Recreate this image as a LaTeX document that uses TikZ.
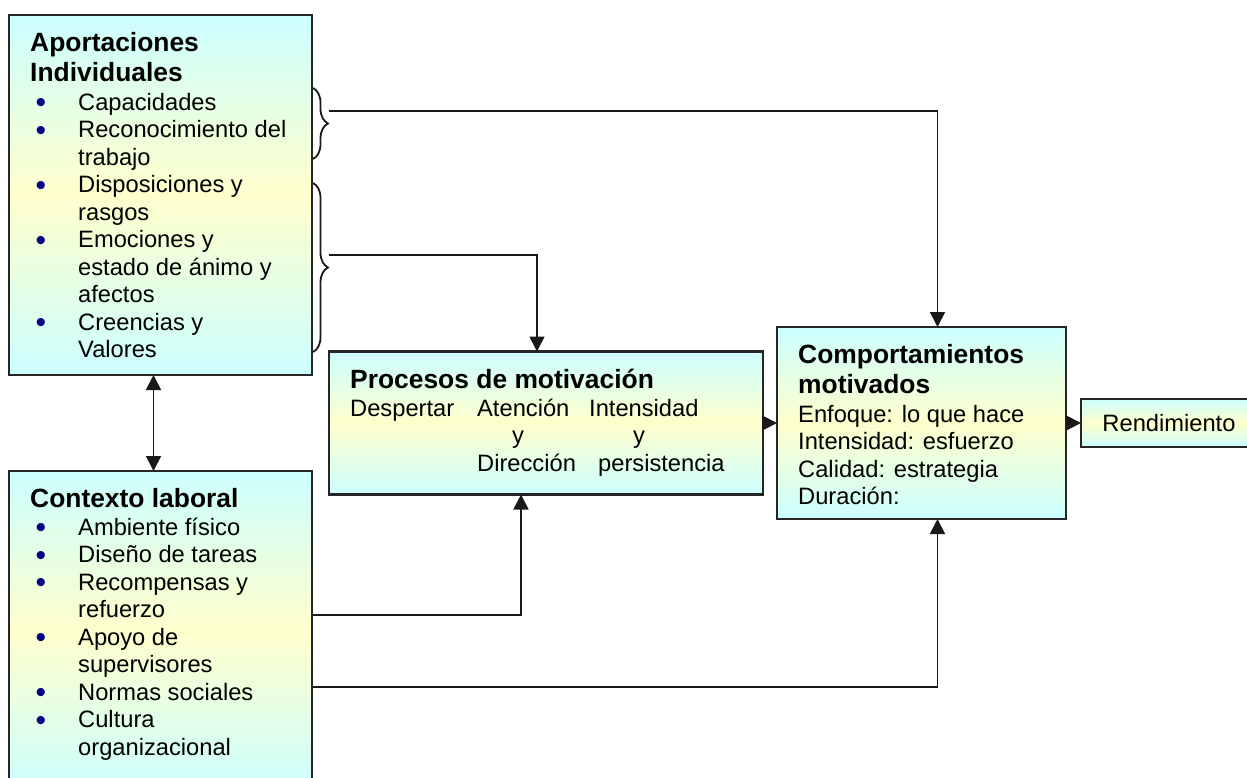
\documentclass[tikz,border=0pt]{standalone}
\usepackage{fontspec}
\setmainfont{Liberation Sans}
\usepackage{tikz}
\usetikzlibrary{arrows.meta,positioning,decorations.pathreplacing}

\definecolor{boxcyan}{HTML}{CCFFFF}
\definecolor{boxyellow}{HTML}{FFFFCC}
\definecolor{bulletblue}{HTML}{000080}

\newcommand{\titfont}{\fontsize{26.4}{31}\selectfont\bfseries}
\newcommand{\bodyfont}{\fontsize{23.7}{27.5}\selectfont}
\newcommand{\bul}{\makebox[48pt][l]{\hspace{5.5pt}\raisebox{-2.2pt}{\fontsize{30}{30}\selectfont\textcolor{bulletblue}{•}}}}
\newcommand{\itemind}{\hspace*{48pt}}

\begin{document}
\begin{tikzpicture}[
    x=1pt, y=-1pt,
    panel/.style={draw=black!85, line width=2.2pt, top color=boxcyan, bottom color=boxcyan, middle color=boxyellow, inner sep=0pt, outer sep=0pt},
    boxtext/.style={anchor=north west, xshift=21pt, yshift=-17pt, align=left, inner sep=0pt, font=\bodyfont},
    conn/.style={-{Triangle[length=15pt,width=15pt]}, line width=1.8pt, draw=black!90},
    twoway/.style={{Triangle[length=15pt,width=15pt]}-{Triangle[length=15pt,width=15pt]}, line width=1.8pt, draw=black!90},
    curly/.style={decorate, decoration={brace, amplitude=15pt}, line width=1.8pt, draw=black!90}
]
    \useasboundingbox (0,0) rectangle (1247,777);
    \clip (0,0) rectangle (1247,777);

    \node[panel, minimum width=303pt, minimum height=360pt, anchor=north west] (aport) at (9,15) {};
    \node[panel, minimum width=303pt, minimum height=320pt, below=96pt of aport] (contexto) {};
    \node[panel, minimum width=289pt, minimum height=192pt, anchor=north west] (comport) at (777,327) {};
    \node[panel, minimum width=434pt, minimum height=143pt, left=14pt of comport] (procesos) {};
    \node[panel, minimum width=176pt, minimum height=48pt, right=15pt of comport, font=\bodyfont] (rend) {Rendimiento};

    \node[boxtext] (aportTxt) at (aport.north west) {%
        {\titfont Aportaciones}\\[3pt]
        {\titfont Individuales}\\[1pt]
        \bul Capacidades\\
        \bul Reconocimiento del\\
        \itemind trabajo\\
        \bul Disposiciones y\\
        \itemind rasgos\\
        \bul Emociones y\\
        \itemind estado de ánimo y\\
        \itemind afectos\\
        \bul Creencias y\\
        \itemind Valores};
    \node[boxtext] (contextoTxt) at (contexto.north west) {%
        {\titfont Contexto laboral}\\[0.5pt]
        \bul Ambiente físico\\
        \bul Diseño de tareas\\
        \bul Recompensas y\\
        \itemind refuerzo\\
        \bul Apoyo de\\
        \itemind supervisores\\
        \bul Normas sociales\\
        \bul Cultura\\
        \itemind organizacional};
    \node[boxtext] (procesosTxt) at (procesos.north west) {%
        {\titfont Procesos de motivación}\\[0.5pt]
        \makebox[127pt][l]{Despertar}\makebox[112pt][l]{Atención}Intensidad\\
        \makebox[283pt][l]{\hspace*{162pt}y}y\\
        \hspace*{127pt}\makebox[121pt][l]{Dirección}persistencia};
    \node[boxtext] (comportTxt) at (comport.north west) {%
        {\titfont Comportamientos}\\[3pt]
        {\titfont motivados}\\[1pt]
        Enfoque: lo que hace\\
        Intensidad: esfuerzo\\
        Calidad: estrategia\\
        Duración:};

    \draw[curly] (313,88) -- (313,159);
    \draw[curly] (313,183) -- (313,352);
    \coordinate (b1) at (329,111);
    \coordinate (b2) at (329,255);

    \draw[conn] (b1) -| ([xshift=16pt]comport.north);
    \draw[conn] (b2) -| ([xshift=-9pt]procesos.north);
    \draw[conn] ([yshift=-144pt]contexto.north east) -| ([xshift=-25pt]procesos.south);
    \draw[conn] ([yshift=-216pt]contexto.north east) -| ([xshift=16pt]comport.south);
    \draw[conn] (procesos.east) -- (comport.west);
    \draw[conn] (comport.east) -- (rend.west);
    \draw[twoway] ([xshift=-7pt]aport.south) -- ([xshift=-7pt]contexto.north);
\end{tikzpicture}
\end{document}
